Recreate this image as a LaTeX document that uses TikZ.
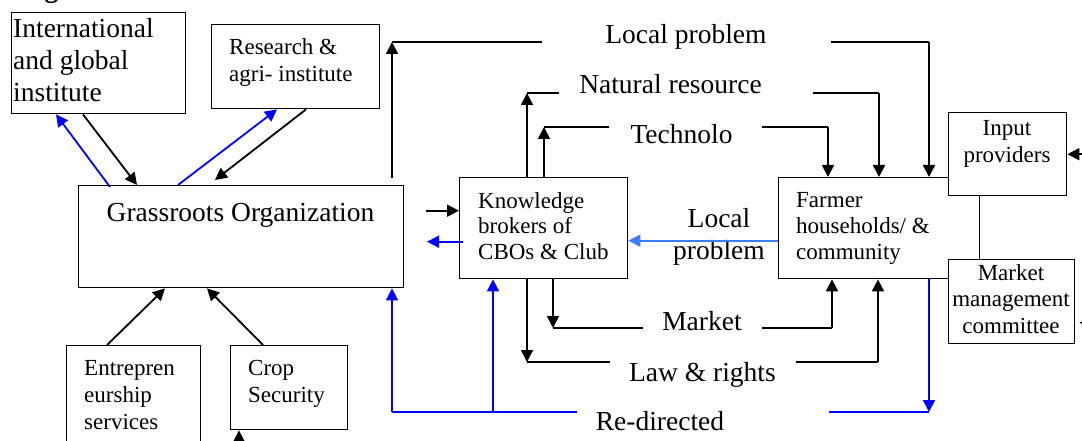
\documentclass[tikz,border=0pt]{standalone}
\usepackage{fontspec}
\setmainfont{Liberation Serif}
\usetikzlibrary{arrows.meta,calc}
\definecolor{lblue}{RGB}{60,125,255}
\begin{document}
\begin{tikzpicture}[x=1pt,y=-1pt,
  box/.style={draw,line width=1.4pt,inner sep=0pt,anchor=north west,fill=white},
  lg/.style={font=\fontsize{27.5}{32}\selectfont,inner sep=0pt},
  sm/.style={font=\fontsize{23}{27}\selectfont,inner sep=0pt},
  ln/.style={line width=1.8pt},
  arr/.style={ln,-{Triangle[length=12pt,width=12pt]}},
  barr/.style={arr,blue},
  lbarr/.style={arr,lblue}]
\useasboundingbox (0,0) rectangle (1082,441);
% boxes
\node[box,minimum width=174pt,minimum height=101pt] (intl) at (11,12) {};
\node[box,minimum width=168pt,minimum height=84pt] (res) at (211,24) {};
\node[box,minimum width=325pt,minimum height=102pt] (gro) at (78,185) {};
\node[box,minimum width=168pt,minimum height=101pt] (kb) at (459,177) {};
\node[box,minimum width=201pt,minimum height=101pt] (farm) at (778,177) {};
\node[box,minimum width=118pt,minimum height=83pt] (inp) at (948,112) {};
\node[box,minimum width=126pt,minimum height=84pt] (mkt) at (948,259) {};
\node[box,minimum width=134pt,minimum height=130pt] (ent) at (66,345) {};
\node[box,minimum width=117pt,minimum height=84pt] (crop) at (230,345) {};
% box texts
\node[font=\bfseries\fontsize{27.5}{32}\selectfont,anchor=base west,inner sep=0pt] (fig) at (20,-2) {Figure 3:};
\node[lg,anchor=north west,align=left] (intlT) at (13,15.25) {\strut International\\and global\\institute};
\node[sm,anchor=north west,align=left] (resT) at (229,35.1) {\strut Research \&\\agri- institute};
\node[lg,anchor=base] (groT) at (240.5,222) {Grassroots Organization};
\node[font=\fontsize{23}{25.5}\selectfont,inner sep=0pt,anchor=north west,align=left] (kbT) at (478,190.15) {\strut Knowledge\\brokers of\\CBOs \& Club};
\node[font=\fontsize{23}{26}\selectfont,inner sep=0pt,anchor=north west,align=left] (farmT) at (796,188.8) {\strut Farmer\\households/ \&\\community};
\node[sm,anchor=north,align=center] (inpT) at (1007,116.1) {\strut Input\\providers};
\node[font=\fontsize{23}{26.5}\selectfont,inner sep=0pt,anchor=north,align=center] (mktT) at (1011,261.45) {\strut Market\\management\\committee};
\node[sm,anchor=north west,align=left] (entT) at (84,356.1) {\strut Entrepren\\eurship\\services};
\node[sm,anchor=north west,align=left] (cropT) at (248,356.1) {\strut Crop\\Security};
% free labels
\node[lg,anchor=base] (lp) at (686,44) {Local problem};
\node[lg,anchor=base] (nr) at (670.5,94) {Natural resource};
\node[lg,anchor=base] (tc) at (681.5,144) {Technolo};
\node[lg,anchor=north,align=center] (lpb) at (719,204.6) {\strut Local\\problem};
\node[lg,anchor=base] (mk) at (702,330) {Market};
\node[lg,anchor=base] (lr) at (702.5,381) {Law \& rights};
\node[lg,anchor=base] (rd) at (660,430) {Re-directed};
% corner coordinates
\coordinate (lpC1) at (392,42); \coordinate (lpE1) at (542,42);
\coordinate (lpS2) at (831,42); \coordinate (lpC2) at (929,42);
\coordinate (nrC1) at (527,93); \coordinate (nrE1) at (559,93);
\coordinate (nrS2) at (813,93); \coordinate (nrC2) at (879,93);
\coordinate (tcC1) at (544,127); \coordinate (tcE1) at (609,127);
\coordinate (tcS2) at (762,127); \coordinate (tcC2) at (828,127);
\coordinate (mkC1) at (553,328); \coordinate (mkE1) at (643,328);
\coordinate (mkS2) at (762,328); \coordinate (mkC2) at (832,328);
\coordinate (lrC1) at (527,362); \coordinate (lrE1) at (610,362);
\coordinate (lrS2) at (796,362); \coordinate (lrC2) at (878,362);
\coordinate (rdC1) at (392,412); \coordinate (rdM) at (493,412); \coordinate (rdE1) at (577,412);
\coordinate (rdS2) at (829,412); \coordinate (rdC2) at (929,412);
% institutes <-> grassroots
\draw[arr] ([xshift=72pt]intl.south west) -- ([xshift=59pt]gro.north west);
\draw[barr] ([xshift=32pt,yshift=-2pt]gro.north west) -- ([xshift=45pt]intl.south west);
\draw[barr] ([xshift=100pt]gro.north west) -- ([xshift=66pt]res.south west);
\draw[arr] ([xshift=95pt]res.south west) -- ([xshift=137pt,yshift=5pt]gro.north west);
% local problem
\draw[arr] ($(gro.north -| lpC1)+(0,-7)$) -- (lpC1);
\draw[ln] (lpC1) -- (lpE1);
\draw[ln] (lpS2) -- (lpC2);
\draw[arr] (lpC2) -- (farm.north -| lpC2);
% natural resource
\draw[arr] (kb.north -| nrC1) -- (nrC1);
\draw[ln] (nrC1) -- (nrE1);
\draw[ln] (nrS2) -- (nrC2);
\draw[arr] (nrC2) -- (farm.north -| nrC2);
% technolo
\draw[arr] (kb.north -| tcC1) -- (tcC1);
\draw[ln] (tcC1) -- (tcE1);
\draw[ln] (tcS2) -- (tcC2);
\draw[arr] (tcC2) -- (farm.north -| tcC2);
% market
\draw[arr] (kb.south -| mkC1) -- (mkC1);
\draw[ln] (mkC1) -- (mkE1);
\draw[ln] (mkS2) -- (mkC2);
\draw[arr] (mkC2) -- (farm.south -| mkC2);
% law & rights
\draw[arr] (kb.south -| lrC1) -- (lrC1);
\draw[ln] (lrC1) -- (lrE1);
\draw[ln] (lrS2) -- (lrC2);
\draw[arr] (lrC2) -- (farm.south -| lrC2);
% re-directed
\draw[ln,blue] (rdC1) -- (rdE1);
\draw[barr] (rdC1) -- (gro.south -| rdC1);
\draw[barr] (rdM) -- (kb.south -| rdM);
\draw[ln,blue] (rdS2) -- (rdC2);
\draw[barr] (farm.south -| rdC2) -- (rdC2);
% grassroots <-> knowledge brokers
\draw[arr] ([xshift=-33pt,yshift=17.5pt]kb.west) -- ([yshift=17.5pt]kb.west);
\draw[barr] ([xshift=4pt,yshift=-13.5pt]kb.west) -- ([xshift=-32pt,yshift=-13.5pt]kb.west);
\draw[lbarr] ([yshift=-12.5pt]farm.west) -- ([yshift=-12.5pt]kb.east);
% right side inputs
\draw[arr] ([xshift=20pt]inp.east) -- (inp.east);
\draw[arr] ([xshift=20pt,yshift=-21pt]mkt.east) -- ([xshift=4pt,yshift=-21pt]mkt.east);
% bottom boxes
\draw[arr] ([xshift=41pt]ent.north west) -- ([xshift=87pt]gro.south west);
\draw[arr] ([xshift=33pt]crop.north west) -- ([xshift=129pt]gro.south west);
\draw[arr] ([xshift=9pt,yshift=-30pt]crop.south west) -- ([xshift=9pt]crop.south west);
\end{tikzpicture}
\end{document}
